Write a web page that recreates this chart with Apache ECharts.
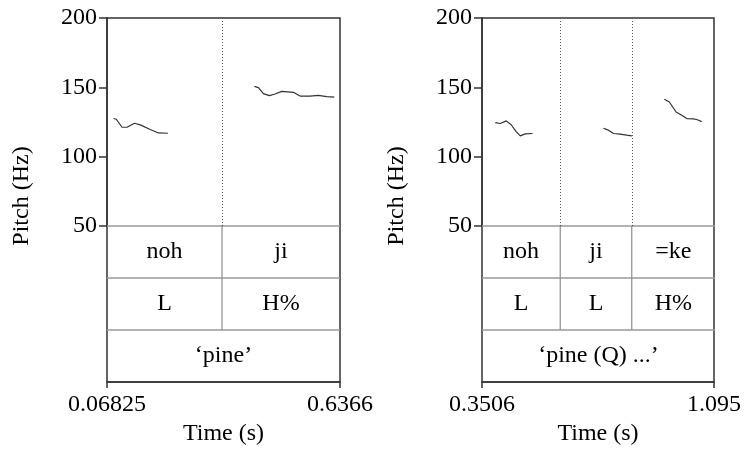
<!DOCTYPE html>
<html>
<head>
<meta charset="utf-8">
<script src="https://cdn.jsdelivr.net/npm/echarts@6/dist/echarts.min.js"></script>
<style>
html,body{margin:0;padding:0;background:#fff;}
#chart{width:744px;height:451px;}
</style>
</head>
<body>
<div id="chart"></div>
<script>
// ---------- DATA ----------
// Left panel
const leftRange = [0.06825, 0.6366];
const leftTickLabels = ['0.06825', '0.6366'];
const leftSeg1Time = [0.0843, 0.0909, 0.1048, 0.1170, 0.1355, 0.1494, 0.1737, 0.1940, 0.2169];
const leftSeg1Hz   = [127.5, 127.0, 121.2, 121.2, 124.1, 122.9, 119.6, 117.1, 116.9];
const leftSeg2Time = [0.4278, 0.4376, 0.4497, 0.4644, 0.4783, 0.4946, 0.5228, 0.5392, 0.5635, 0.5837, 0.6042, 0.6227];
const leftSeg2Hz   = [150.7, 149.8, 145.5, 144.0, 145.2, 147.1, 146.4, 143.7, 143.7, 144.2, 143.3, 143.0];
const leftBounds = [0.06825, 0.3488, 0.6366];
const leftWords = ['noh', 'ji'];
const leftTones = ['L', 'H%'];
const leftGloss = ['\u2018pine\u2019'];

// Right panel
const rightRange = [0.3506, 1.095];
const rightTickLabels = ['0.3506', '1.095'];
const rightSeg1Time = [0.3930, 0.4090, 0.4281, 0.4431, 0.4591, 0.4728, 0.4888, 0.5120];
const rightSeg1Hz   = [124.6, 123.9, 125.8, 123.2, 118.3, 115.0, 116.4, 116.7];
const rightSeg2Time = [0.7386, 0.7545, 0.7705, 0.7919, 0.8133, 0.8292];
const rightSeg2Hz   = [120.5, 119.1, 116.7, 116.2, 115.5, 115.0];
const rightSeg3Time = [0.9332, 0.9492, 0.9706, 0.9887, 1.0047, 1.0258, 1.0366, 1.0526];
const rightSeg3Hz   = [141.4, 139.4, 132.2, 129.9, 127.5, 127.2, 126.8, 125.3];
const rightBounds = [0.3506, 0.6004, 0.8292, 1.095];
const rightWords = ['noh', 'ji', '=ke'];
const rightTones = ['L', 'L', 'H%'];
const rightGloss = ['\u2018pine (Q) ...\u2019'];

const pitchTicks = [50, 100, 150, 200];

// ---------- STYLE ----------
const FONT = 'Liberation Serif';
const FS = 24;
const FRAME = '#333';

const chart = echarts.init(document.getElementById('chart'), null, {renderer: 'canvas'});

function zip(a, b) { return a.map((v, i) => [v, b[i]]); }

function buildPanel(idx, left, range, tickLabels, segs, bounds, words, tones, gloss) {
  const g0 = idx * 3; // frame grid, pitch grid, tier grid
  const grids = [
    {left: left, top: 18, width: 233, height: 364, show: true, borderColor: FRAME, borderWidth: 1.5, backgroundColor: 'transparent'},
    {left: left, top: 18, width: 233, height: 208, show: false},
    {left: left, top: 226, width: 233, height: 156, show: false}
  ];
  const xAxes = [
    {gridIndex: g0, type: 'value', min: range[0], max: range[1],
     axisLine: {show: true, lineStyle: {color: FRAME, width: 1.5}},
     splitLine: {show: false},
     axisTick: {show: true, length: 6, lineStyle: {color: FRAME, width: 1.5}, customValues: range},
     axisLabel: {show: true, customValues: range, margin: 11, color: '#000', fontFamily: FONT, fontSize: FS,
                 formatter: (v) => (Math.abs(v - range[0]) < 1e-9 ? tickLabels[0] : tickLabels[1])},
     name: 'Time (s)', nameLocation: 'middle', nameGap: 37,
     nameTextStyle: {color: '#000', fontFamily: FONT, fontSize: FS}},
    {gridIndex: g0 + 1, type: 'value', min: range[0], max: range[1], show: false},
    {gridIndex: g0 + 2, type: 'value', min: range[0], max: range[1], show: false}
  ];
  const yAxes = [
    {gridIndex: g0, type: 'value', min: 0, max: 1, show: false},
    {gridIndex: g0 + 1, type: 'value', min: 50, max: 200, interval: 50,
     axisLine: {show: true, lineStyle: {color: FRAME, width: 1.5}},
     splitLine: {show: false},
     axisTick: {show: true, length: 8, lineStyle: {color: FRAME, width: 1.5}},
     axisLabel: {show: true, margin: 10, color: '#000', fontFamily: FONT, fontSize: FS,
                 customValues: pitchTicks}},
    {gridIndex: g0 + 2, type: 'value', min: 0, max: 3, inverse: true, show: false}
  ];
  const series = [];
  segs.forEach((s, i) => {
    series.push({
      type: 'line', xAxisIndex: g0 + 1, yAxisIndex: g0 + 1, data: s,
      showSymbol: false, symbol: 'none', smooth: false, silent: true, animation: false,
      lineStyle: {color: '#333', width: 1.2},
      markLine: i === 0 ? {
        symbol: 'none', silent: true, animation: false, label: {show: false},
        lineStyle: {color: '#555', width: 1, type: [1, 2]},
        data: bounds.slice(1, -1).map(b => ({xAxis: b}))
      } : undefined
    });
  });
  // tiers
  const items = [];
  const labels = [];
  const rows = [words, tones, gloss];
  rows.forEach((row, r) => {
    const bnd = r < 2 ? bounds : [bounds[0], bounds[bounds.length - 1]];
    row.forEach((t, k) => {
      items.push([bnd[k], bnd[k + 1], r]);
      labels.push(t);
    });
  });
  series.push({
    type: 'custom', xAxisIndex: g0 + 2, yAxisIndex: g0 + 2, data: items, silent: true, animation: false,
    encode: {x: [0, 1], y: 2},
    renderItem: function (params, api) {
      const x0 = api.value(0), x1 = api.value(1), r = api.value(2);
      const p0 = api.coord([x0, r]);
      const p1 = api.coord([x1, r + 1]);
      const children = [];
      children.push({type: 'line', shape: {x1: p0[0], y1: p0[1], x2: p1[0], y2: p0[1]},
        style: {stroke: '#999', lineWidth: 1.5}});
      if (x0 > range[0] + 1e-9) {
        children.push({type: 'line', shape: {x1: p0[0], y1: p0[1], x2: p0[0], y2: p1[1]},
          style: {stroke: '#777', lineWidth: 1}});
      }
      children.push({type: 'text', style: {text: labels[params.dataIndex], x: (p0[0] + p1[0]) / 2, y: (p0[1] + p1[1]) / 2,
        align: 'center', verticalAlign: 'middle', fill: '#000', font: FS + 'px "' + FONT + '"'}});
      return {type: 'group', children: children};
    }
  });
  return {grids, xAxes, yAxes, series};
}

const L = buildPanel(0, 107, leftRange, leftTickLabels,
  [zip(leftSeg1Time, leftSeg1Hz), zip(leftSeg2Time, leftSeg2Hz)],
  leftBounds, leftWords, leftTones, leftGloss);
const R = buildPanel(1, 482, rightRange, rightTickLabels,
  [zip(rightSeg1Time, rightSeg1Hz), zip(rightSeg2Time, rightSeg2Hz), zip(rightSeg3Time, rightSeg3Hz)],
  rightBounds, rightWords, rightTones, rightGloss);

chart.setOption({
  animation: false,
  backgroundColor: '#fff',
  grid: L.grids.concat(R.grids),
  xAxis: L.xAxes.concat(R.xAxes),
  yAxis: L.yAxes.concat(R.yAxes),
  series: L.series.concat(R.series),
  graphic: [
    {type: 'text', x: 22, y: 196, rotation: Math.PI / 2, style: {text: 'Pitch (Hz)', align: 'center', verticalAlign: 'middle', fill: '#000', font: FS + 'px "' + FONT + '"'}},
    {type: 'text', x: 397, y: 196, rotation: Math.PI / 2, style: {text: 'Pitch (Hz)', align: 'center', verticalAlign: 'middle', fill: '#000', font: FS + 'px "' + FONT + '"'}}
  ]
});
</script>
</body>
</html>
